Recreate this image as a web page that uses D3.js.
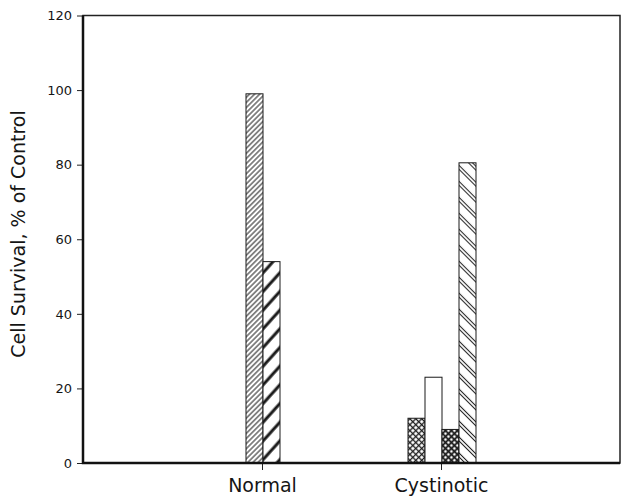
<!DOCTYPE html>
<html>
<head>
<meta charset="utf-8">
<script src="https://cdn.jsdelivr.net/npm/d3@7"></script>
<style>
	body { margin: 0; background: #fff; }
	text { font-family: "DejaVu Sans", sans-serif; fill: #151515; }
</style>
</head>
<body>
<svg id="chart" width="622" height="501"></svg>
<script>
// chart values
var groups = ["Normal", "Cystinotic"];
var slots = ["s1", "s2", "s3", "s4"]; // four bar positions within each group
var normalValues = [null, 99, 54, null];
var cystinoticValues = [12, 23, 9, 80.5];
var normalFills = [null, "fineHatch", "boldHatch", null];
var cystinoticFills = ["crossHatch", "plain", "denseCross", "backHatch"];
var yTicks = [0, 20, 40, 60, 80, 100, 120];
var yTitle = "Cell Survival, % of Control";

// frame edges (note: "top" is taken by window.top)
var frameLeft = 83, frameRight = 620, frameTop = 15.5, frameBottom = 463;

var svg = d3.select("#chart");

// group centres sit at 1 and 2 on a 0..3 scale across the frame
var x = d3.scaleLinear().domain([0, 3]).range([frameLeft, frameRight]);
var inner = d3.scaleBand().domain(slots).range([-33, 35]);
var y = d3.scaleLinear().domain([0, 120]).range([frameBottom, frameTop]);

// hatch patterns
var defs = svg.append("defs");

function hatch(id, size, angle, lines, width) {
	var p = defs.append("pattern")
		.attr("id", id)
		.attr("patternUnits", "userSpaceOnUse")
		.attr("width", size)
		.attr("height", size)
		.attr("patternTransform", "rotate(" + angle + ")");
	p.append("rect").attr("width", size).attr("height", size).attr("fill", "#fff");
	lines.forEach(function(l) {
		p.append("line")
			.attr("x1", l[0]).attr("y1", l[1])
			.attr("x2", l[2]).attr("y2", l[3])
			.attr("stroke", "#1a1a1a")
			.attr("stroke-width", width);
	});
}

hatch("fineHatch", 3.6, 45, [[1.8, 0, 1.8, 3.6]], 1);
hatch("boldHatch", 12.5, 42, [[3, 0, 3, 12.5]], 3);
hatch("crossHatch", 4.2, 45, [[2.1, 0, 2.1, 4.2], [0, 2.1, 4.2, 2.1]], 1.3);
hatch("denseCross", 4.2, 45, [[2.1, 0, 2.1, 4.2], [0, 2.1, 4.2, 2.1]], 1.8);
hatch("backHatch", 11.3, -45, [[1.5, 0, 1.5, 11.3], [4.3, 0, 4.3, 11.3]], 1);

// build bar list from the arrays
var bars = [];
[normalValues, cystinoticValues].forEach(function(vals, gi) {
	var fills = gi === 0 ? normalFills : cystinoticFills;
	vals.forEach(function(v, si) {
		if (v === null) return;
		bars.push({ group: gi + 1, slot: slots[si], value: v, fill: fills[si] });
	});
});

svg.append("g").selectAll("rect")
	.data(bars)
	.enter().append("rect")
		.attr("x", function(d) { return x(d.group) + inner(d.slot); })
		.attr("y", function(d) { return y(d.value); })
		.attr("width", inner.bandwidth())
		.attr("height", function(d) { return y(0) - y(d.value); })
		.attr("fill", function(d) { return d.fill === "plain" ? "#fff" : "url(#" + d.fill + ")"; })
		.attr("stroke", "#1a1a1a")
		.attr("stroke-width", 1);

// y axis
var yAxis = svg.append("g")
	.attr("transform", "translate(" + frameLeft + ",0)")
	.call(d3.axisLeft(y).tickValues(yTicks).tickSize(6).tickPadding(5));
yAxis.select(".domain").remove();
yAxis.selectAll("text").attr("font-size", 13).attr("font-family", "DejaVu Sans");
yAxis.selectAll("line").attr("stroke", "#222");

// x axis
var xAxis = svg.append("g")
	.attr("transform", "translate(0," + frameBottom + ")")
	.call(d3.axisBottom(x).tickValues([1, 2])
		.tickFormat(function(d) { return groups[d - 1]; })
		.tickSize(7).tickPadding(9));
xAxis.select(".domain").remove();
xAxis.selectAll("text").attr("font-size", 19).attr("font-family", "DejaVu Sans");
xAxis.selectAll("line").attr("stroke", "#222");

// frame
svg.append("rect")
	.attr("x", frameLeft).attr("y", frameTop)
	.attr("width", frameRight - frameLeft).attr("height", frameBottom - frameTop)
	.attr("fill", "none")
	.attr("stroke", "#222")
	.attr("stroke-width", 1.5);
svg.append("path")
	.attr("d", "M" + frameLeft + "," + frameTop + "V" + frameBottom + "H" + frameRight)
	.attr("fill", "none")
	.attr("stroke", "#111")
	.attr("stroke-width", 2.5);

// y title
svg.append("text")
	.attr("transform", "translate(25,234) rotate(-90)")
	.attr("text-anchor", "middle")
	.attr("font-size", 19)
	.text(yTitle);
</script>
</body>
</html>
